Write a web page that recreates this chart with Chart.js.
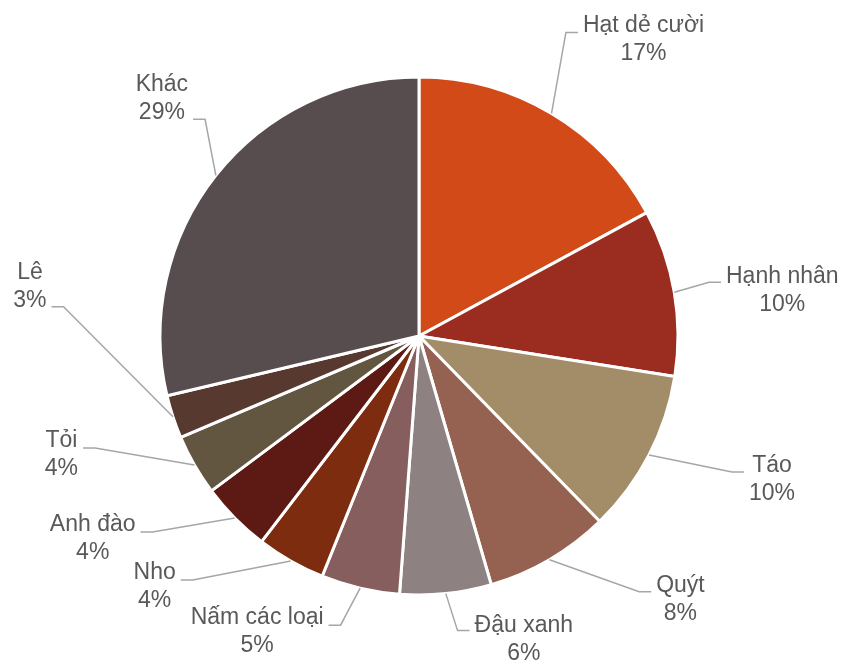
<!DOCTYPE html>
<html>
<head>
<meta charset="utf-8">
<script src="https://cdn.jsdelivr.net/npm/chart.js@4.4.1/dist/chart.umd.min.js"></script>
<style>
  html, body { margin: 0; padding: 0; background: #fff; }
  #wrap { width: 846px; height: 664px; }
</style>
</head>
<body>
<div id="wrap"><canvas id="pie"></canvas></div>
<script>
const categories = ['Hạt dẻ cười', 'Hạnh nhân', 'Táo', 'Quýt', 'Đậu xanh', 'Nấm các loại', 'Nho', 'Anh đào', 'Tỏi', 'Lê', 'Khác'];
const shares = [17.1, 10.4, 10.2, 7.8, 5.7, 4.9, 4.3, 4.4, 3.8, 2.7, 28.7];
const sliceColors = ['#d24a17', '#9a2d1f', '#a38c68', '#956251', '#8d8181', '#875e5e', '#7e2c10', '#5d1a14', '#625641', '#583930', '#584d4e'];

// label block centre, measured from the rim point at the middle of each slice
const labelOffsets = [[92, -75], [108, -3], [123, 23], [131, 38], [78, 44], [-103, 42], [-136, 24], [-142, 19], [-133, -12], [-143, -132], [-54, -78]];
// height of the short horizontal part of each leader line, from the block centre
const leaderLevels = [-6, -7, -6, -6, -7, -5, -5, -5, -5, 22, 22];

const pieLabels = {
    id: 'pieLabels',
    afterDatasetsDraw(chart, args, opts) {
        const ctx = chart.ctx;
        const meta = chart.getDatasetMeta(0);
        const data = chart.data.datasets[0].data;
        const total = data.reduce((a, b) => a + b, 0);
        ctx.save();
        ctx.font = '23px "Liberation Sans", Arial, sans-serif';
        ctx.textAlign = 'center';
        ctx.textBaseline = 'alphabetic';
        meta.data.forEach((arc, i) => {
            const p = arc.getProps(['x', 'y', 'startAngle', 'endAngle', 'outerRadius'], true);
            const mid = (p.startAngle + p.endAngle) / 2;
            const ax = p.x + Math.cos(mid) * p.outerRadius;
            const ay = p.y + Math.sin(mid) * p.outerRadius;
            const [dx, dy] = opts.offsets[i];
            const cx = ax + dx, cy = ay + dy;
            const lines = [chart.data.labels[i], Math.round(data[i] / total * 100) + '%'];
            const w = Math.max(...lines.map(t => ctx.measureText(t).width));
            const ly = cy + opts.levels[i];
            const side = dx > 0 ? -1 : 1;
            const edge = cx + side * (w / 2 + 5);
            const elbow = edge + side * 12;

            ctx.strokeStyle = '#a6a6a6';
            ctx.lineWidth = 1.5;
            ctx.beginPath();
            ctx.moveTo(ax, ay);
            ctx.lineTo(elbow, ly);
            ctx.lineTo(edge, ly);
            ctx.stroke();

            ctx.fillStyle = '#595959';
            ctx.fillText(lines[0], cx, cy - 6);
            ctx.fillText(lines[1], cx, cy + 22);
        });
        ctx.restore();
    }
};

new Chart('pie', {
    type: 'pie',
    data: {
        labels: categories,
        datasets: [{
            data: shares,
            backgroundColor: sliceColors,
            borderColor: '#ffffff',
            borderWidth: 3
        }]
    },
    options: {
        responsive: true,
        maintainAspectRatio: false,
        animation: false,
        radius: 259,
        layout: {
            padding: {left: 0, right: 8, top: 8, bottom: 0}
        },
        plugins: {
            legend: {display: false},
            tooltip: {enabled: false},
            pieLabels: {offsets: labelOffsets, levels: leaderLevels}
        }
    },
    plugins: [pieLabels]
});
</script>
</body>
</html>
